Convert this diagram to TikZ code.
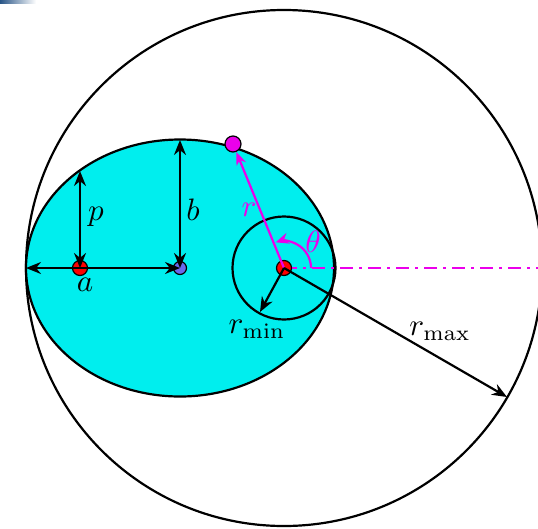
\documentclass[tikz,border=0pt]{standalone}
\usetikzlibrary{arrows.meta}
\definecolor{ecyan}{RGB}{0,238,238}
\definecolor{mag}{RGB}{235,0,235}
\definecolor{bdot}{RGB}{105,105,235}
\definecolor{cornerblue}{RGB}{40,85,135}
\tikzset{
  outline/.style={draw=black, line width=2.2pt},
  dim/.style={line width=2.2pt, {Stealth[length=15pt,width=12pt]}-{Stealth[length=15pt,width=12pt]}},
  ray/.style={line width=2.2pt, -{Stealth[length=15pt,width=12pt]}},
  mray/.style={draw=mag, line width=2.2pt, -{Stealth[length=13pt,width=10pt]}},
  dotnode/.style={circle, draw=black, line width=1.2pt, inner sep=0pt, minimum size=#1},
  lbl/.style={inner sep=0pt, scale=3.1}
}
\begin{document}
\begin{tikzpicture}[x=1pt,y=-1pt]
\useasboundingbox (0,0) rectangle (538,528);
\shade[left color=cornerblue, right color=white] (0,0) rectangle (36,3);
% key points
\coordinate (F) at (284,268);
\coordinate (C) at (180,268);
\coordinate (A) at (80,268);
\coordinate (L) at (26,268);
\coordinate (Ptop) at (80,171);
\coordinate (Btop) at (180,140);
\coordinate (E) at (538,268);
\coordinate (Rmin) at (260,312);
\coordinate (Rmax) at (507,397);
% big circle
\draw[outline] (F) circle (258);
% ellipse
\draw[outline, fill=ecyan] (C) ellipse (154 and 128.5);
% small circle
\draw[outline] (F) circle (51.5);
% dash-dot line
\draw[mag, line width=2.4pt, dash pattern=on 13pt off 6pt on 3pt off 6pt] (F) -- (E);
% dots
\node[dotnode=15pt, fill=red] (fdot) at (F) {};
\node[dotnode=15pt, fill=red] (adot) at (A) {};
\node[dotnode=13pt, fill=bdot] (cdot) at (C) {};
\node[dotnode=16pt, fill=mag] (mdot) at (233,144) {};
% dimension arrows
\draw[dim] (L) -- (C);
\draw[dim] (Ptop) -- (A);
\draw[dim] (Btop) -- (C);
% r line
\draw[mray] (F) -- (mdot);
% theta arc
\draw[mag, line width=2.2pt, -{Stealth[length=13pt,width=11pt]}] ([shift={(0:27)}]F) arc[start angle=0, end angle=-108, radius=27];
% r_min, r_max
\draw[ray] (F) -- (Rmin);
\draw[ray] (F) -- (Rmax);
% labels
\node[lbl] (lp) at (96,217) {$p$};
\node[lbl] (lb) at (193,210) {$b$};
\node[lbl] (la) at (85,285) {$a$};
\node[lbl, text=mag] (lr) at (249,210) {$r$};
\node[lbl, text=mag] (lt) at (313,242) {$\theta$};
\node[lbl] (lrmin) at (257,329) {$r_{\mathrm{min}}$};
\node[lbl] (lrmax) at (440,331) {$r_{\mathrm{max}}$};
\end{tikzpicture}
\end{document}
